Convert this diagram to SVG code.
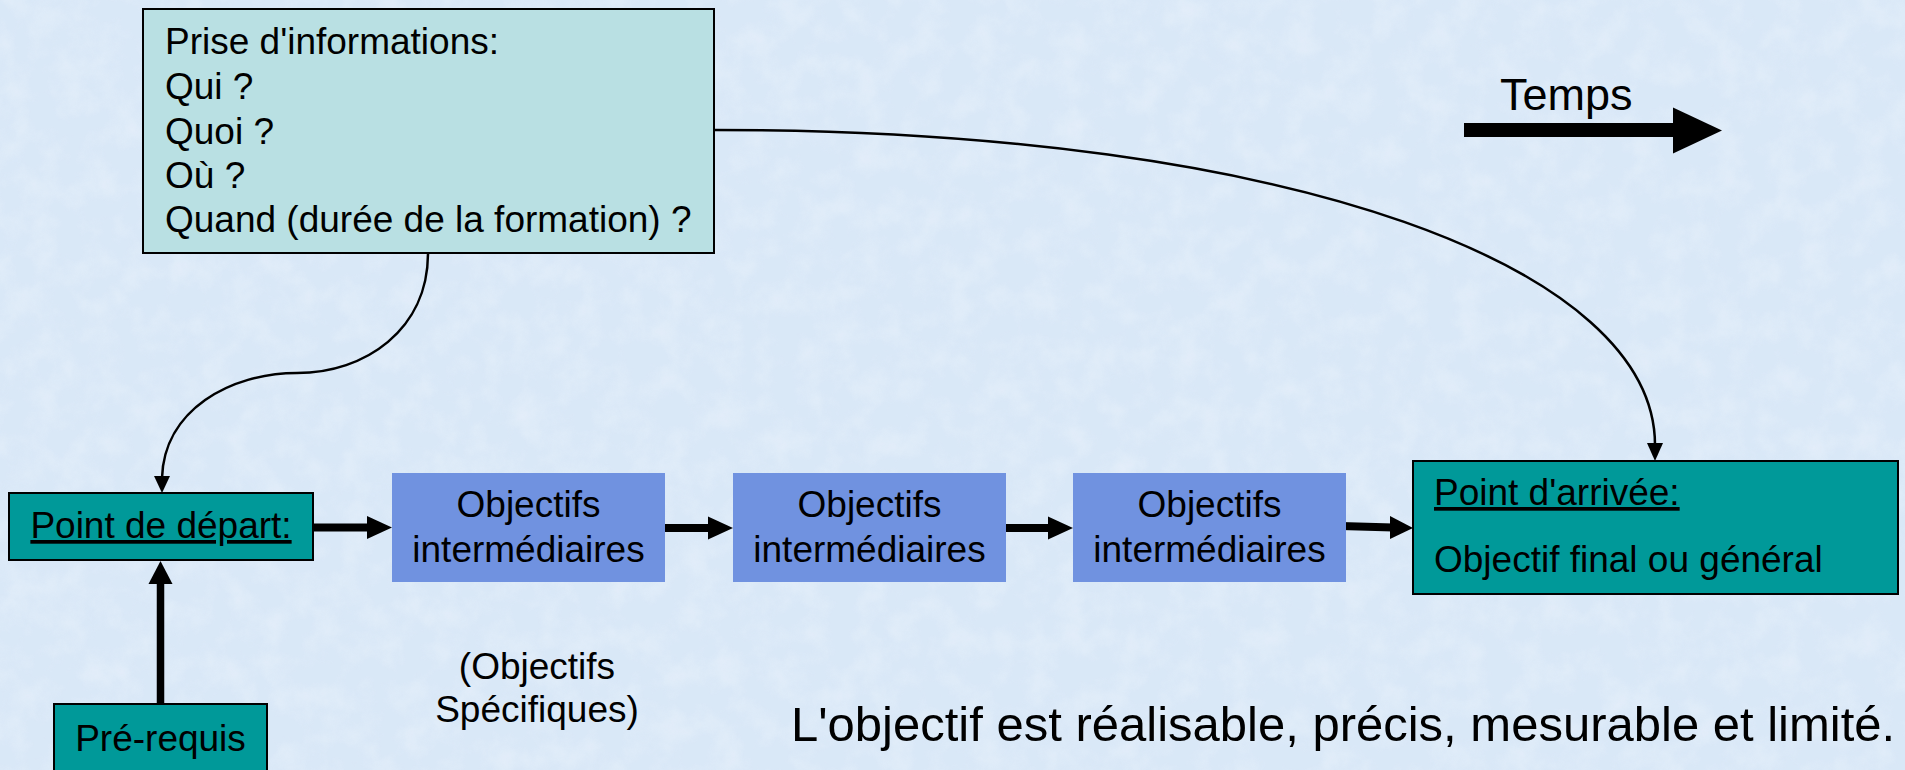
<svg xmlns="http://www.w3.org/2000/svg" width="1905" height="770" viewBox="0 0 1905 770">
  <defs>
    <style>
      text { font-family: "Liberation Sans", Arial, sans-serif; fill: #000; }
      .t37 { font-size: 37px; }
      .box { stroke: #000; stroke-width: 2; }
      .teal { fill: #009999; }
      .obj { fill: #7092e0; }
      .info { fill: #b9e0e3; }
      .thin { fill: none; stroke: #000; stroke-width: 2.5; }
      .thick { fill: none; stroke: #000; stroke-width: 8; }
      .head { fill: #000; }
    </style>
    <filter id="tex" x="0" y="0" width="100%" height="100%">
      <feTurbulence type="fractalNoise" baseFrequency="0.035" numOctaves="4" seed="7" result="n"/>
      <feColorMatrix in="n" type="matrix" values="0 0 0 0 0.80  0 0 0 0 0.87  0 0 0 0 0.96  0 0 0 1.4 -0.55"/>
    </filter>
  </defs>

  <rect x="0" y="0" width="1905" height="770" fill="#d9e8f7"/>
  <rect x="0" y="0" width="1905" height="770" filter="url(#tex)" opacity="0.9"/>

  <g id="connectors">
    <!-- Prise d'informations -> Point de départ -->
    <path class="thin" d="M428,253 C428,330 365,373 297,373 C230,373 164,410 162,478"/>
    <polygon class="head" points="154,476 170,476 162,493"/>
    <!-- Prise d'informations -> Point d'arrivée -->
    <path class="thin" d="M713,130 C1300,130 1655,270 1655,445"/>
    <polygon class="head" points="1647,443 1663,443 1655,461"/>
    <!-- Pré-requis -> Point de départ -->
    <line class="head" x1="160.5" y1="704" x2="160.5" y2="582" stroke="#000" stroke-width="7.5"/>
    <polygon class="head" points="148.5,584 172.5,584 160.5,561"/>
    <!-- Point de départ -> Obj1 -->
    <line x1="313" y1="527.5" x2="370" y2="527.5" stroke="#000" stroke-width="8"/>
    <polygon class="head" points="367,516 367,539 392,527.5"/>
    <!-- Obj1 -> Obj2 -->
    <line x1="665" y1="528" x2="710" y2="528" stroke="#000" stroke-width="8"/>
    <polygon class="head" points="708,516.5 708,539.5 733,528"/>
    <!-- Obj2 -> Obj3 -->
    <line x1="1006" y1="528" x2="1050" y2="528" stroke="#000" stroke-width="8"/>
    <polygon class="head" points="1048,516.5 1048,539.5 1073,528"/>
    <!-- Obj3 -> Point d'arrivée -->
    <line x1="1323" y1="525.5" x2="1393" y2="527.5" stroke="#000" stroke-width="8"/>
    <polygon class="head" points="1390,516 1390,539 1413,528"/>
  </g>

  <g id="info">
    <rect class="box info" x="143" y="9" width="571" height="244"/>
    <text class="t37" x="165" y="54">Prise d'informations:</text>
    <text class="t37" x="165" y="99">Qui ?</text>
    <text class="t37" x="165" y="144">Quoi ?</text>
    <text class="t37" x="165" y="188">Où ?</text>
    <text class="t37" x="165" y="232">Quand (durée de la formation) ?</text>
  </g>

  <g id="temps">
    <text x="1500" y="110" font-size="45">Temps</text>
    <rect x="1464" y="123" width="212" height="14" fill="#000"/>
    <polygon class="head" points="1673,107.5 1673,153.5 1722,130.5"/>
  </g>

  <g id="depart">
    <rect class="box teal" x="9" y="493" width="304" height="67"/>
    <text class="t37" x="161" y="538" text-anchor="middle" text-decoration="underline">Point de départ:</text>
  </g>

  <g id="prerequis">
    <rect class="box teal" x="54" y="704" width="213" height="70"/>
    <text class="t37" x="160.5" y="751" text-anchor="middle">Pré-requis</text>
  </g>

  <g id="obj1">
    <rect class="obj" x="392" y="473" width="273" height="109"/>
    <text class="t37" x="528.5" y="517" text-anchor="middle">Objectifs</text>
    <text class="t37" x="528.5" y="562" text-anchor="middle">intermédiaires</text>
  </g>

  <g id="obj2">
    <rect class="obj" x="733" y="473" width="273" height="109"/>
    <text class="t37" x="869.5" y="517" text-anchor="middle">Objectifs</text>
    <text class="t37" x="869.5" y="562" text-anchor="middle">intermédiaires</text>
  </g>

  <g id="obj3">
    <rect class="obj" x="1073" y="473" width="273" height="109"/>
    <text class="t37" x="1209.5" y="517" text-anchor="middle">Objectifs</text>
    <text class="t37" x="1209.5" y="562" text-anchor="middle">intermédiaires</text>
  </g>

  <g id="arrivee">
    <rect class="box teal" x="1413" y="461" width="485" height="133"/>
    <text class="t37" x="1434" y="505" text-decoration="underline">Point d'arrivée:</text>
    <text class="t37" x="1434" y="572">Objectif final ou général</text>
  </g>

  <g id="specifiques">
    <text class="t37" x="537" y="679" text-anchor="middle">(Objectifs</text>
    <text class="t37" x="537" y="722" text-anchor="middle">Spécifiques)</text>
  </g>

  <g id="note">
    <text x="791" y="741" font-size="49">L'objectif est réalisable, précis, mesurable et limité.</text>
  </g>
</svg>
